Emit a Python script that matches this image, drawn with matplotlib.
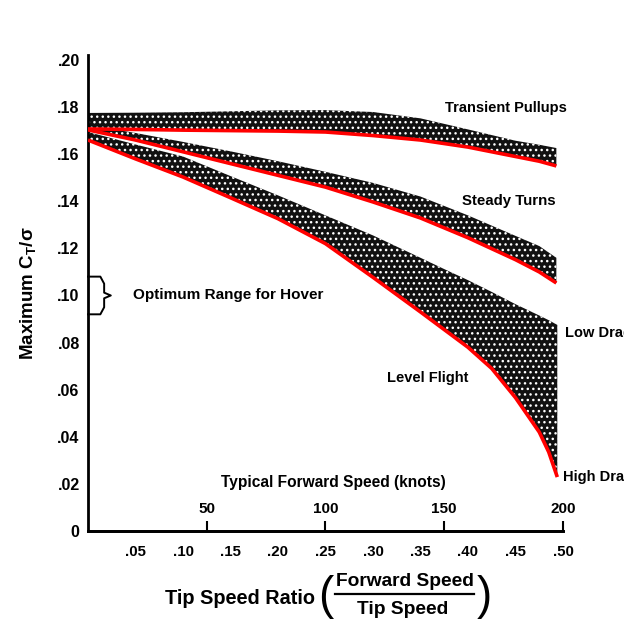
import matplotlib
matplotlib.use("Agg")
import matplotlib.pyplot as plt

plt.rcParams['font.family'] = ['Liberation Sans', 'DejaVu Sans']
plt.rcParams['font.weight'] = 'bold'
plt.rcParams['axes.labelweight'] = 'bold'
plt.rcParams['mathtext.fontset'] = 'custom'
plt.rcParams['mathtext.rm'] = 'Liberation Sans:bold'
plt.rcParams['mathtext.it'] = 'Liberation Sans:bold'
plt.rcParams['mathtext.bf'] = 'Liberation Sans:bold'
plt.rcParams['hatch.linewidth'] = 1.0

# tip speed ratio samples along each band
mu = [0, .05, .10, .15, .20, .25, .30, .35, .40, .45, .475, .493]

# transient pullups band (upper edge / lower edge)
tp_upper = [.1775, .1776, .1778, .1782, .1786, .1787, .1779, .1752, .1705, .1657, .1640, .1626]
tp_lower = [.1707, .1705, .1702, .1700, .1698, .1694, .1679, .1660, .1630, .1590, .1570, .1550]

# steady turns band
st_upper = [.1724, .1690, .1652, .1612, .1570, .1525, .1478, .1420, .1340, .1253, .1210, .1160]
st_lower = [.1703, .1660, .1610, .1560, .1510, .1460, .1397, .1329, .1245, .1152, .1100, .1053]

# level flight band: low drag (upper) to high drag (lower)
mu_lf = [0, .05, .10, .15, .20, .25, .30, .35, .375, .40, .425, .45, .475, .485, .494]
lf_upper = [.1694, .1641, .1590, .1507, .1425, .1340, .1255, .1160, .1112, .1065, .1015, .0963, .0915, .0895, .0875]
lf_lower = [.1660, .1580, .1503, .1415, .1326, .1220, .1077, .0930, .0855, .0780, .0690, .0566, .0420, .0335, .0229]

hover_range = (.092, .108)

knot_ticks = [50, 100, 150, 200]
knots_per_mu = 400.0
mu_ticks = [.05, .10, .15, .20, .25, .30, .35, .40, .45, .50]
ct_ticks = [0, .02, .04, .06, .08, .10, .12, .14, .16, .18, .20]

fig = plt.figure(figsize=(6.24, 6.22), dpi=100)
ax = fig.add_axes([88 / 624, 1 - 531 / 622, 475 / 624, 476 / 622])
ax.set_xlim(0, .5)
ax.set_ylim(0, .2021)

# stippled bands
for x, lo, hi in [(mu, tp_lower, tp_upper), (mu, st_lower, st_upper), (mu_lf, lf_lower, lf_upper)]:
    ax.fill_between(x, lo, hi, facecolor='#111111', edgecolor='white', hatch='...', linewidth=0, zorder=2)
    ax.plot(x, lo, color='#ff0000', lw=2.6, solid_capstyle='butt', zorder=3)

# brace marking the hover range
lo_h, hi_h = hover_range
mid_h = (lo_h + hi_h) / 2
bx = [0, .013, .017, .017, .024, .017, .017, .013, 0]
by = [hi_h, hi_h, hi_h - .003, mid_h + .0012, mid_h, mid_h - .0012, lo_h + .003, lo_h, lo_h]
ax.plot(bx, by, color='black', lw=1.4, clip_on=False, zorder=4)
ax.text(.047, mid_h, 'Optimum Range for Hover', fontsize=11, va='center', ha='left')

# curve labels
ax.text(.44, .1795, 'Transient Pullups', fontsize=10.5, ha='center', va='center')
ax.text(.443, .1403, 'Steady Turns', fontsize=10.8, ha='center', va='center')
ax.text(.358, .0650, 'Level Flight', fontsize=10.5, ha='center', va='center')
ax.text(.502, .0840, 'Low Drag', fontsize=10.5, ha='left', va='center', clip_on=False)
ax.text(.500, .0230, 'High Drag', fontsize=10.5, ha='left', va='center', clip_on=False)

# axes styling
for s in ['top', 'right']:
    ax.spines[s].set_visible(False)
for s in ['left', 'bottom']:
    ax.spines[s].set_linewidth(2)
ax.set_yticks(ct_ticks)
ax.set_yticklabels(['0'] + ['.%02d' % round(v * 100) for v in ct_ticks[1:]])
ax.set_xticks(mu_ticks)
ax.set_xticklabels(['.%02d' % round(v * 100) for v in mu_ticks])
ax.tick_params(axis='both', length=0)
ax.tick_params(axis='x', pad=10, labelsize=10.8)
ax.tick_params(axis='y', pad=6, labelsize=11.5)
ax.set_ylabel('Maximum C$_\\mathrm{T}$/σ', fontsize=13.5, labelpad=14)

# typical forward speed scale drawn on the bottom axis
secax = ax.secondary_xaxis(0.0, functions=(lambda m: m * knots_per_mu, lambda k: k / knots_per_mu))
secax.set_alignment('top')
secax.set_xticks(knot_ticks)
secax.tick_params(axis='x', direction='out', length=7, width=1.5, labelsize=11, pad=4)
secax.spines['top'].set_linewidth(2)
ax.text(.258, .0208, 'Typical Forward Speed (knots)', fontsize=11.2, ha='center', va='center')

# x axis title with the ratio written as a fraction
fig.text(240 / 624, 1 - 598 / 622, 'Tip Speed Ratio', fontsize=14.3, ha='center', va='center')
fig.text(326 / 624, 1 - 597 / 622, '(', fontsize=33, ha='center', va='center', fontweight='normal')
fig.text(484 / 624, 1 - 597 / 622, ')', fontsize=33, ha='center', va='center', fontweight='normal')
fig.text(405 / 624, 1 - 581 / 622, 'Forward Speed', fontsize=13.8, ha='center', va='center')
fig.text(403 / 624, 1 - 609 / 622, 'Tip Speed', fontsize=13.8, ha='center', va='center')
fig.add_artist(plt.Line2D([335 / 624, 474 / 624], [1 - 594 / 622, 1 - 594 / 622], color='black', lw=1.6))

fig.savefig('out.png', dpi=100)
